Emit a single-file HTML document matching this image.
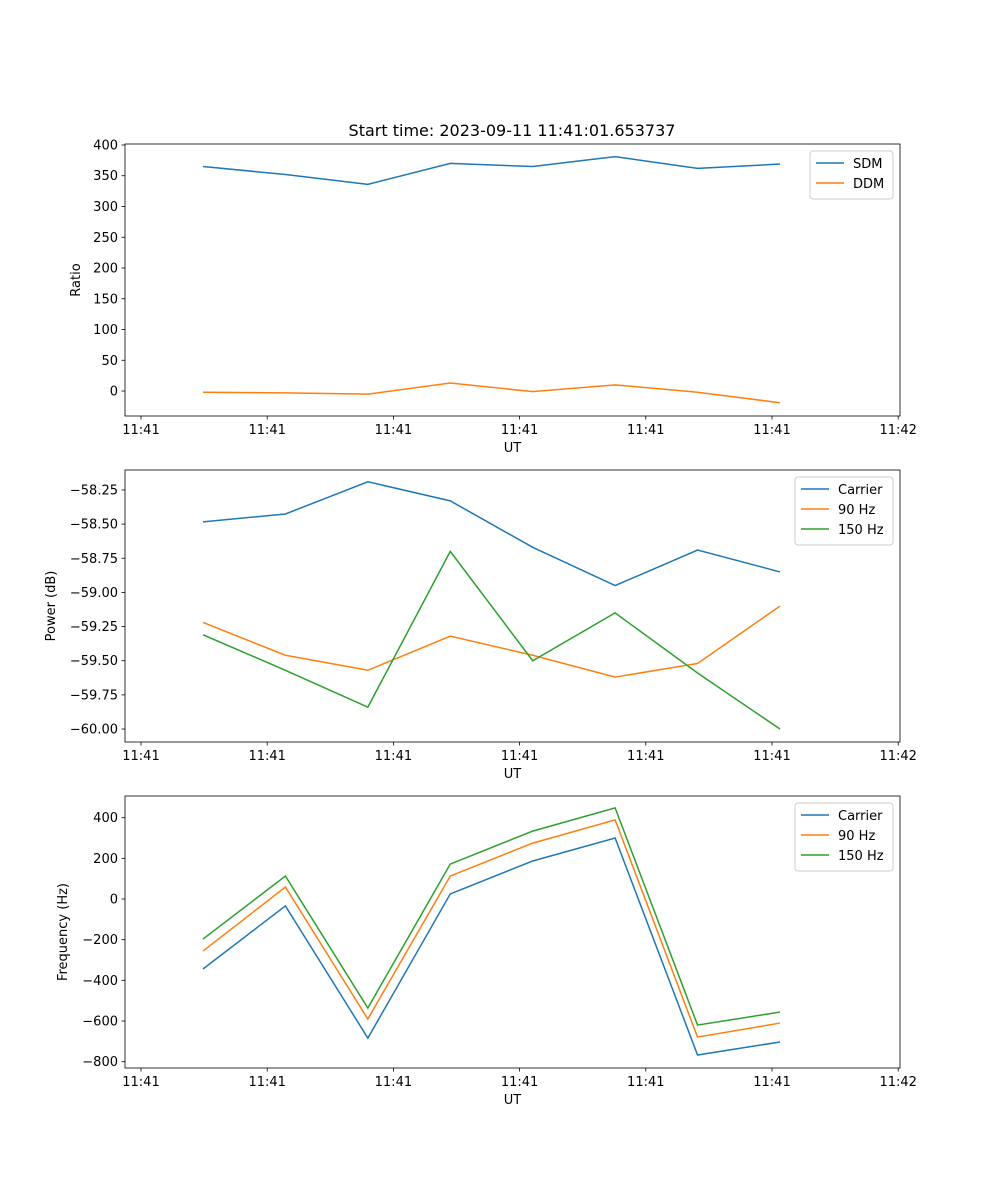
<!DOCTYPE html>
<html><head><meta charset="utf-8"><style>
body{margin:0;background:#fff;}
svg{display:block;font-family:"DejaVu Sans","Liberation Sans",sans-serif;}
</style></head><body>
<svg id="fig" width="1000" height="1200"></svg>
<script>
const xIndex=[0,1,2,3,4,5,6,7];
const xTickPos=[-0.752,0.779,2.310,3.841,5.372,6.903,8.434];
const xTickLabels=["11:41","11:41","11:41","11:41","11:41","11:41","11:42"];
const sdm=[365,352,336,370,365,381,362,369];
const ddm=[-2,-3,-5,13,-1,10,-2,-19];
const ratioTicks=[0,50,100,150,200,250,300,350,400];
const pwrCarrier=[-58.484,-58.426,-58.19,-58.33,-58.67,-58.95,-58.69,-58.85];
const pwr90=[-59.22,-59.46,-59.57,-59.32,-59.46,-59.62,-59.52,-59.10];
const pwr150=[-59.31,-59.57,-59.84,-58.70,-59.50,-59.15,-59.59,-60.00];
const pwrTicks=[-60.00,-59.75,-59.50,-59.25,-59.00,-58.75,-58.50,-58.25];
const frqCarrier=[-344,-34,-684,25,187,300,-767,-703];
const frq90=[-256,59,-590,113,275,389,-679,-610];
const frq150=[-197,113,-536,172,334,448,-620,-556];
const frqTicks=[-800,-600,-400,-200,0,200,400];
const C=["#1f77b4","#ff7f0e","#2ca02c"];
const NS="http://www.w3.org/2000/svg";
const svg=document.getElementById('fig');
function mk(tag,attrs,parent){const e=document.createElementNS(NS,tag);for(const k in attrs)e.setAttribute(k,attrs[k]);(parent||svg).appendChild(e);return e;}
function panel(o){
  const L=125,R=900,T=o.top,B=o.top+272;
  const xs=v=>L+(v-(-0.946))/(8.456-(-0.946))*(R-L);
  const ys=v=>B-(v-o.ymin)/(o.ymax-o.ymin)*(B-T);
  const g=mk('g',{});
  
  
  o.series.forEach((s,i)=>{
    const p=mk('polyline',{points:s.data.map((v,j)=>xs(xIndex[j])+','+ys(v)).join(' '),fill:'none',stroke:C[i],'stroke-width':1.5},g);
    
    
  });
  mk('rect',{x:L,y:T,width:R-L,height:B-T,fill:'none',stroke:'#000','stroke-width':0.8},g);
  xTickPos.forEach((v,i)=>{const x=xs(v);
    mk('line',{x1:x,x2:x,y1:B,y2:B+3.5,stroke:'#000','stroke-width':0.8},g);
    const t=mk('text',{x:x,y:B+18,'text-anchor':'middle','font-size':13},g);t.textContent=xTickLabels[i];
    
    });
  o.ticks.forEach(v=>{const y=ys(v);
    mk('line',{x1:L-3.5,x2:L,y1:y,y2:y,stroke:'#000','stroke-width':0.8},g);
    const t=mk('text',{x:L-7,y:y+4.5,'text-anchor':'end','font-size':13},g);t.textContent=o.fmt(v);
    
    });
  const xl=mk('text',{x:(L+R)/2,y:B+36,'text-anchor':'middle','font-size':13},g);xl.textContent='UT';
  
  
  const yl=mk('text',{x:o.ylx,y:(T+B)/2,'text-anchor':'middle','font-size':13,transform:`rotate(-90 ${o.ylx} ${(T+B)/2})`},g);yl.textContent=o.ylabel;
  
  
  const n=o.series.length,lw=o.lw,lx=R-7-lw,ly=T+7;
  const lg=mk('g',{},g);
  
  
  mk('rect',{x:lx,y:ly,width:lw,height:8+n*20,rx:3,fill:'#fff','fill-opacity':0.8,stroke:'#ccc'},lg);
  o.series.forEach((s,i)=>{const y=ly+12+i*20;
    mk('line',{x1:lx+6,x2:lx+34,y1:y,y2:y,stroke:C[i],'stroke-width':1.5},lg);
    const t=mk('text',{x:lx+43,y:y+5,'font-size':13},lg);t.textContent=s.label;
    
    });
}
const tt=mk('text',{x:512,y:136,'text-anchor':'middle','font-size':16});tt.textContent='Start time: 2023-09-11 11:41:01.653737';


panel({name:'ratio-panel',top:144,ymin:-40.6,ymax:401.6,ticks:ratioTicks,fmt:v=>String(v),ylabel:'Ratio',ylx:80,lw:83,
  series:[{key:'sdm',label:'SDM',data:sdm},{key:'ddm',label:'DDM',data:ddm}]});
panel({name:'power-panel',top:470,ymin:-60.095,ymax:-58.104,ticks:pwrTicks,fmt:v=>'\u2212'+Math.abs(v).toFixed(2),ylabel:'Power (dB)',ylx:55,lw:98,
  series:[{key:'carrier',label:'Carrier',data:pwrCarrier},{key:'90hz',label:'90 Hz',data:pwr90},{key:'150hz',label:'150 Hz',data:pwr150}]});
panel({name:'frequency-panel',top:796,ymin:-831,ymax:506.6,ticks:frqTicks,fmt:v=>(v<0?'\u2212':'')+Math.abs(v),ylabel:'Frequency (Hz)',ylx:67,lw:98,
  series:[{key:'carrier',label:'Carrier',data:frqCarrier},{key:'90hz',label:'90 Hz',data:frq90},{key:'150hz',label:'150 Hz',data:frq150}]});
</script>
</body></html>
